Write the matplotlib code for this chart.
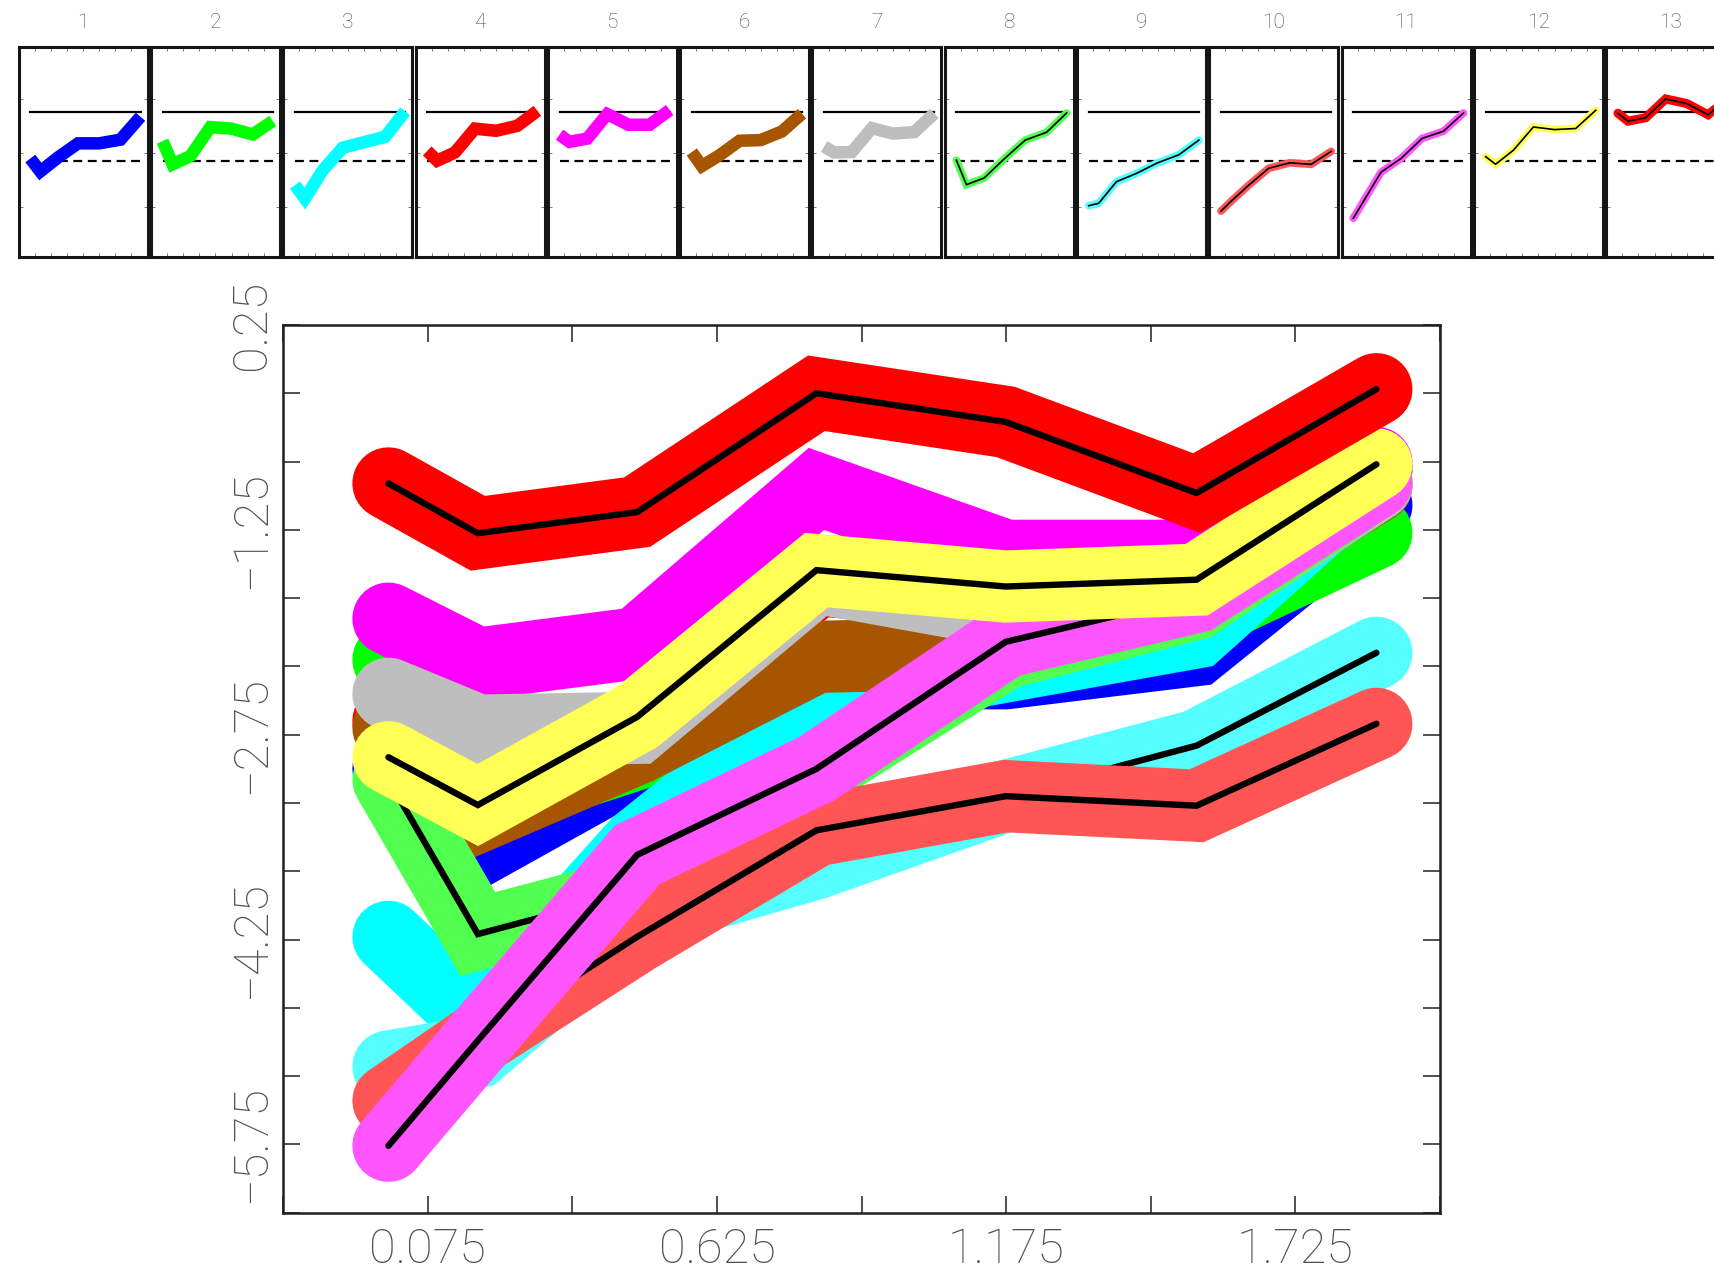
import matplotlib
matplotlib.use('Agg')
import matplotlib.pyplot as plt
import numpy as np

plt.rcParams['font.family'] = ['Roboto', 'DejaVu Sans']

# ---------------- data ----------------
x = [0.0, 0.17, 0.473, 0.814, 1.174, 1.537, 1.879]

s01_blue    = [-3.00, -3.60, -2.95, -2.30, -2.30, -2.13, -1.07]
s02_green   = [-2.20, -3.27, -2.89, -1.55, -1.62, -1.89, -1.27]
s03_cyan    = [-4.23, -4.85, -3.55, -2.50, -2.25, -2.00, -0.82]
s04_red     = [-2.65, -3.10, -2.72, -1.62, -1.72, -1.49, -0.80]
s05_magenta = [-1.90, -2.23, -2.08, -0.95, -1.44, -1.44, -0.76]
s06_brown   = [-2.70, -3.35, -2.85, -2.18, -2.15, -1.75, -0.93]
s07_gray    = [-2.45, -2.72, -2.70, -1.60, -1.85, -1.78, -0.92]
s08_lgreen  = [-3.08, -4.21, -3.90, -3.02, -2.15, -1.79, -0.90]
s09_lcyan   = [-5.18, -5.07, -4.07, -3.69, -3.20, -2.83, -2.15]
s10_salmon  = [-5.43, -4.98, -4.23, -3.45, -3.20, -3.27, -2.67]
s11_pink    = [-5.76, -4.99, -3.63, -3.00, -2.07, -1.74, -0.90]
s12_yellow  = [-2.915, -3.265, -2.62, -1.545, -1.665, -1.615, -0.77]
s13_red     = [-0.91, -1.275, -1.12, -0.25, -0.46, -0.98, -0.22]

panel_labels = ['1', '2', '3', '4', '5', '6', '7', '8', '9', '10', '11', '12', '13']
panel_solid = -0.87
panel_dashed = -3.10

xtick_vals = [-0.2, 0.075, 0.35, 0.625, 0.9, 1.175, 1.45, 1.725, 2.0]
xtick_labels = ['', '0.075', '', '0.625', '', '1.175', '', '1.725', '']
ytick_vals = [0.25, -0.25, -0.75, -1.25, -1.75, -2.25, -2.75, -3.25,
              -3.75, -4.25, -4.75, -5.25, -5.75, -6.25]
ytick_labels = ['0.25', '', '', '\u22121.25', '', '', '\u22122.75', '', '',
                '\u22124.25', '', '', '\u22125.75', '']

series = [s01_blue, s02_green, s03_cyan, s04_red, s05_magenta, s06_brown,
          s07_gray, s08_lgreen, s09_lcyan, s10_salmon, s11_pink,
          s12_yellow, s13_red]
colors = ['#0000FF', '#00FF00', '#00FFFF', '#FF0000', '#FF00FF', '#A85500',
          '#BEBEBE', '#50FF50', '#55FFFF', '#FF5555', '#FF55FF',
          '#FFFF55', '#FF0000']
has_median = [False] * 7 + [True] * 6

# ---------------- figure ----------------
W, H = 1714, 1271
fig = plt.figure(figsize=(W / 100, H / 100), dpi=100)

# main axes
ax = fig.add_axes([283.3 / W, 1 - 1212.7 / H, (1440 - 283.3) / W, (1212.7 - 325) / H])
z = 2
for vals, col, med in zip(series, colors, has_median):
    ax.plot(x, vals, color=col, lw=52, solid_capstyle='round',
            solid_joinstyle='miter', zorder=z)
    z += 1
    if med:
        ax.plot(x, vals, color='black', lw=4.6, solid_capstyle='round',
                solid_joinstyle='miter', zorder=z)
        z += 1

ax.set_xlim(-0.2, 2.0)
ax.set_ylim(-6.25, 0.25)
ax.set_xticks(xtick_vals)
ax.set_xticklabels(xtick_labels)
ax.set_yticks(ytick_vals)
ax.set_yticklabels(ytick_labels)
ax.tick_params(direction='in', length=12, width=1.1, top=True, right=True,
               labelsize=35, labelcolor='#505050', color='#202020')
ax.tick_params(axis='x', pad=10)
ax.tick_params(axis='y', pad=6)
for lab in ax.get_xticklabels() + ax.get_yticklabels():
    lab.set_fontweight('light')
plt.setp(ax.get_yticklabels(), rotation=90, va='center', ha='right')
for sp in ax.spines.values():
    sp.set_linewidth(1.8)
    sp.set_color('#202020')

# small panels
p_left0, p_step, p_w = 18.6, 132.3, 129.0
p_top, p_bot = 47.0, 257.0
for i, (vals, col, med) in enumerate(zip(series, colors, has_median)):
    left = p_left0 + i * p_step
    pax = fig.add_axes([left / W, 1 - p_bot / H, p_w / W, (p_bot - p_top) / H])
    pax.plot([x[0], x[-1]], [panel_solid, panel_solid], color='black', lw=1.6, zorder=1)
    pax.plot([x[0], x[-1]], [panel_dashed, panel_dashed], color='black', lw=1.6,
             ls=(0, (4, 2.5)), zorder=1)
    if med:
        lw = 6.5 if i == 12 else 5.5
        pax.plot(x, vals, color=col, lw=lw, solid_capstyle='round',
                 solid_joinstyle='miter', zorder=2)
        pax.plot(x, vals, color='black', lw=1.2, zorder=3)
    else:
        pax.plot(x, vals, color=col, lw=9, solid_capstyle='butt',
                 solid_joinstyle='miter', zorder=2)
    pax.set_xlim(-0.2, 2.0)
    pax.set_ylim(-7.55, 2.15)
    pax.set_xticks(xtick_vals)
    pax.set_yticks([-0.25, -2.75, -5.25])
    pax.tick_params(direction='in', length=3, width=0.6, top=True, right=True,
                    labelbottom=False, labelleft=False, color='#606060')
    for sp in pax.spines.values():
        sp.set_linewidth(2.2)
        sp.set_color('#151515')
    fig.text((left + p_w / 2) / W, 1 - 22 / H, panel_labels[i], ha='center',
             va='center', fontsize=15, color='#505050', fontweight='light')

fig.savefig('out.png', dpi=100)
